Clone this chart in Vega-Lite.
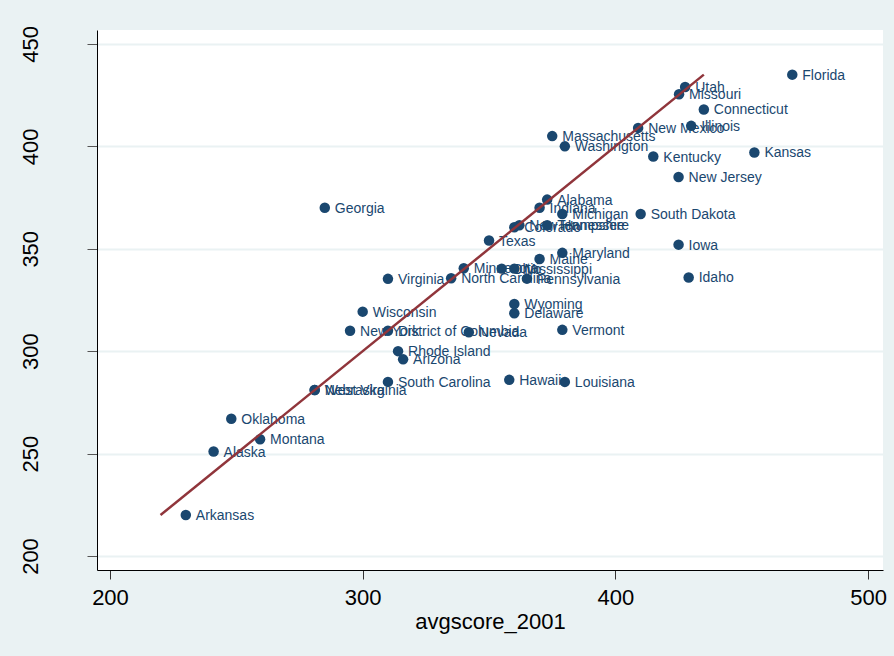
{
  "$schema": "https://vega.github.io/schema/vega-lite/v6.json",
  "width": 786,
  "height": 540,
  "autosize": {"type": "none"},
  "padding": {"left": 97, "top": 30, "right": 11, "bottom": 86},
  "background": "#EAF2F3",
  "config": {
    "view": {"fill": "#FFFFFF", "stroke": null},
    "font": "Liberation Sans"
  },
  "datasets": {
    "points": [
      {"state": "Florida", "x": 470, "y": 435},
      {"state": "Utah", "x": 427.6, "y": 429},
      {"state": "Missouri", "x": 425.2, "y": 425.4},
      {"state": "Connecticut", "x": 435, "y": 418},
      {"state": "Illinois", "x": 430, "y": 410},
      {"state": "New Mexico", "x": 409, "y": 409},
      {"state": "Kansas", "x": 455, "y": 397},
      {"state": "Kentucky", "x": 415, "y": 395},
      {"state": "New Jersey", "x": 425, "y": 385},
      {"state": "South Dakota", "x": 410, "y": 367},
      {"state": "Iowa", "x": 425, "y": 352},
      {"state": "Idaho", "x": 429, "y": 336},
      {"state": "Massachusetts", "x": 375, "y": 405},
      {"state": "Washington", "x": 380, "y": 400},
      {"state": "Alabama", "x": 373, "y": 374},
      {"state": "Indiana", "x": 370, "y": 370},
      {"state": "Michigan", "x": 379, "y": 367},
      {"state": "Colorado", "x": 360, "y": 360.5},
      {"state": "New Hampshire", "x": 362, "y": 361.5},
      {"state": "Tennessee", "x": 373, "y": 361.5},
      {"state": "Texas", "x": 350, "y": 354},
      {"state": "Maryland", "x": 379, "y": 348},
      {"state": "Maine", "x": 370, "y": 345},
      {"state": "Minnesota", "x": 340, "y": 340.5},
      {"state": "Ohio", "x": 355, "y": 340.3},
      {"state": "Mississippi", "x": 360, "y": 340.3},
      {"state": "North Carolina", "x": 335, "y": 335.6},
      {"state": "Pennsylvania", "x": 365, "y": 335.4},
      {"state": "Virginia", "x": 310, "y": 335.3},
      {"state": "Wisconsin", "x": 300, "y": 319.3},
      {"state": "New York", "x": 295, "y": 310},
      {"state": "District of Columbia", "x": 310, "y": 310},
      {"state": "Nevada", "x": 342, "y": 309.2},
      {"state": "Wyoming", "x": 360, "y": 323},
      {"state": "Delaware", "x": 360, "y": 318.5},
      {"state": "Vermont", "x": 379, "y": 310.4},
      {"state": "Rhode Island", "x": 314, "y": 300},
      {"state": "Arizona", "x": 316, "y": 296},
      {"state": "Hawaii", "x": 358, "y": 286},
      {"state": "Louisiana", "x": 380, "y": 285},
      {"state": "Nebraska", "x": 281, "y": 281},
      {"state": "West Virginia", "x": 281, "y": 281},
      {"state": "South Carolina", "x": 310, "y": 285},
      {"state": "Oklahoma", "x": 248, "y": 267},
      {"state": "Montana", "x": 259.4, "y": 257},
      {"state": "Alaska", "x": 241, "y": 251},
      {"state": "Arkansas", "x": 230, "y": 220},
      {"state": "Georgia", "x": 285, "y": 370}
    ],
    "fit": [
      {"x": 220, "y": 220},
      {"x": 435, "y": 435}
    ]
  },
  "encoding": {
    "x": {
      "field": "x",
      "type": "quantitative",
      "scale": {"domain": [194.86, 505.9], "nice": false, "zero": false},
      "axis": {
        "title": "avgscore_2001",
        "values": [200, 300, 400, 500],
        "grid": false,
        "domainColor": "#000000",
        "domainWidth": 1,
        "tickColor": "#333333",
        "tickSize": 9,
        "labelFontSize": 22,
        "labelColor": "#000000",
        "labelPadding": 8,
        "labelFlush": false,
        "titleFontSize": 22,
        "titleFontWeight": "normal",
        "titleColor": "#000000",
        "titlePadding": 3
      }
    },
    "y": {
      "field": "y",
      "type": "quantitative",
      "scale": {"domain": [193.16, 456.8], "nice": false, "zero": false},
      "axis": {
        "title": null,
        "values": [200, 250, 300, 350, 400, 450],
        "grid": true,
        "gridColor": "#EAF2F3",
        "gridWidth": 2,
        "domainColor": "#000000",
        "domainWidth": 1,
        "tickColor": "#555555",
        "tickSize": 10,
        "labelFontSize": 22,
        "labelColor": "#000000",
        "labelAngle": -90,
        "labelPadding": 45,
        "labelFlush": false
      }
    }
  },
  "layer": [
    {
      "data": {"name": "points"},
      "mark": {"type": "point", "filled": true, "shape": "circle", "size": 110, "color": "#1A476F", "opacity": 1}
    },
    {
      "data": {"name": "points"},
      "mark": {"type": "text", "align": "left", "baseline": "middle", "dx": 10, "dy": 1, "fontSize": 14, "color": "#1A476F"},
      "encoding": {"text": {"field": "state", "type": "nominal"}}
    },
    {
      "data": {"name": "fit"},
      "mark": {"type": "line", "color": "#90353B", "strokeWidth": 2.5},
      "encoding": {}
    }
  ]
}
